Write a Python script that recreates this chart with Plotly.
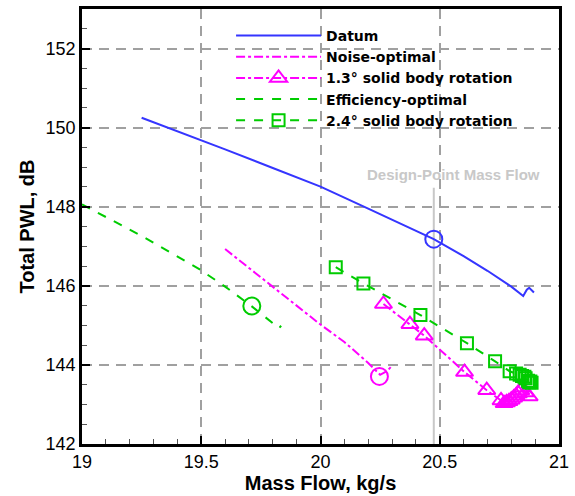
import plotly.graph_objects as go

# datum
datum_flow = [19.25, 19.4, 19.6, 19.8, 20.0, 20.2, 20.4, 20.475, 20.6, 20.7, 20.8, 20.85, 20.865, 20.875, 20.895]
datum_pwl = [150.25, 149.91, 149.45, 148.98, 148.51, 147.95, 147.39, 147.18, 146.75, 146.38, 145.98, 145.74, 145.9, 145.95, 145.83]

# noise-optimal
noise_flow = [19.6, 19.8, 20.0, 20.1, 20.2, 20.25, 20.28, 20.3]
noise_pwl = [146.93, 145.98, 145.02, 144.58, 144.05, 143.75, 143.85, 143.98]

# 1.3 deg solid body rotation
rot13_flow = [20.264, 20.375, 20.435, 20.604, 20.697, 20.757, 20.77, 20.78, 20.79, 20.8, 20.81, 20.82, 20.83, 20.84, 20.845, 20.86, 20.875]
rot13_pwl = [145.54, 145.03, 144.74, 143.82, 143.36, 143.1, 143.03, 143.05, 143.08, 143.12, 143.17, 143.22, 143.28, 143.35, 143.42, 143.3, 143.2]

# efficiency-optimal
eff_flow = [19.0, 19.25, 19.49, 19.6, 19.71, 19.82, 19.826, 19.835]
eff_pwl = [148.06, 147.26, 146.43, 145.98, 145.49, 144.98, 144.93, 144.99]

# 2.4 deg solid body rotation
rot24_flow = [20.064, 20.18, 20.419, 20.614, 20.732, 20.793, 20.82, 20.835, 20.845, 20.855, 20.86, 20.87, 20.875, 20.88, 20.885]
rot24_pwl = [146.47, 146.06, 145.26, 144.55, 144.09, 143.84, 143.78, 143.75, 143.72, 143.7, 143.66, 143.6, 143.56, 143.58, 143.55]

# design points
design_flow = 20.475
dp_datum = 147.18
dp_noise = (20.247, 143.71)
dp_eff = (19.712, 145.49)

BLUE = "#3535ff"
MAGENTA = "#ff00ff"
GREEN = "#00cc00"
FONT = "Arial, Liberation Sans, sans-serif"

fig = go.Figure()

# design-point mass flow line
fig.add_trace(go.Scatter(x=[design_flow, design_flow], y=[142, 148.48], mode="lines",
                         line=dict(color="#c8c8c8", width=2), showlegend=False, hoverinfo="skip"))

fig.add_trace(go.Scatter(x=datum_flow, y=datum_pwl, mode="lines", name="Datum",
                         line=dict(color=BLUE, width=2)))
fig.add_trace(go.Scatter(x=noise_flow, y=noise_pwl, mode="lines", name="Noise-optimal",
                         line=dict(color=MAGENTA, width=2, dash="dashdot")))
fig.add_trace(go.Scatter(x=rot13_flow, y=rot13_pwl, mode="lines+markers", name="1.3° solid body rotation",
                         line=dict(color=MAGENTA, width=2, dash="dashdot"),
                         marker=dict(symbol="triangle-up-open", size=15, color=MAGENTA, line=dict(width=2))))
fig.add_trace(go.Scatter(x=eff_flow, y=eff_pwl, mode="lines", name="Efficiency-optimal",
                         line=dict(color=GREEN, width=2, dash="dash")))
fig.add_trace(go.Scatter(x=rot24_flow, y=rot24_pwl, mode="lines+markers", name="2.4° solid body rotation",
                         line=dict(color=GREEN, width=2, dash="dash"),
                         marker=dict(symbol="square-open", size=12, color=GREEN, line=dict(width=2))))

# design point circles
for x, y, c in [(design_flow, dp_datum, BLUE), (dp_noise[0], dp_noise[1], MAGENTA), (dp_eff[0], dp_eff[1], GREEN)]:
    fig.add_trace(go.Scatter(x=[x], y=[y], mode="markers", showlegend=False,
                             marker=dict(symbol="circle-open", size=17, color=c, line=dict(width=2))))

fig.add_annotation(x=20.556, y=148.81, text="<b>Design-Point Mass Flow</b>", showarrow=False,
                   font=dict(family=FONT, size=15, color="#c8c8c8"))

axis_common = dict(
    showline=True, linecolor="black", linewidth=2.5, mirror=True,
    ticks="inside", ticklen=8, tickwidth=2, tickcolor="black",
    showgrid=True, gridcolor="#a0a0a0", gridwidth=1.5, griddash="10px,7px",
    zeroline=False, tickfont=dict(family=FONT, size=18, color="black"),
)

fig.update_xaxes(range=[19, 21], dtick=0.5, tick0=19,
                 minor=dict(dtick=0.1, ticks="inside", ticklen=5, tickwidth=1, tickcolor="#555", showgrid=False),
                 title=dict(text="<b>Mass Flow, kg/s</b>", font=dict(family=FONT, size=20, color="black"), standoff=4),
                 **axis_common)
fig.update_yaxes(range=[142, 153], dtick=2, tick0=142,
                 minor=dict(dtick=0.5, ticks="inside", ticklen=5, tickwidth=1, tickcolor="#555", showgrid=False),
                 title=dict(text="<b>Total PWL, dB</b>", font=dict(family=FONT, size=20, color="black"), standoff=6),
                 **axis_common)

fig.update_layout(
    width=575, height=496,
    margin=dict(l=82, r=13, t=6, b=52),
    plot_bgcolor="white", paper_bgcolor="white",
    font=dict(family=FONT),
    legend=dict(x=0.3125, y=0.975, xanchor="left", yanchor="top", bgcolor="rgba(0,0,0,0)",
                font=dict(family="DejaVu Sans, sans-serif", size=14, color="black", weight="bold"),
                itemwidth=85, tracegroupgap=0),
)

fig.write_html("out.html", config={"displayModeBar": False},
               post_script="document.body.style.margin='0';")
